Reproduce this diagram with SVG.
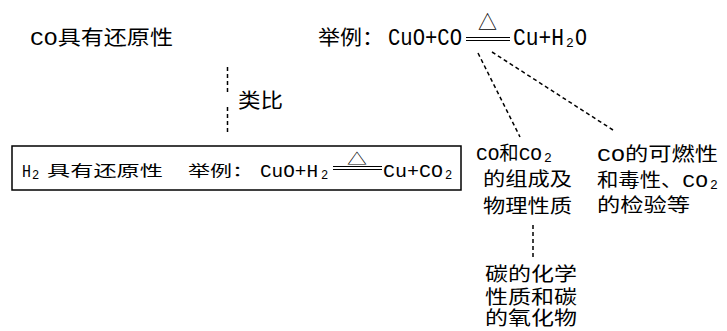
<svg xmlns="http://www.w3.org/2000/svg" width="727" height="331" viewBox="0 0 727 331">
<style>
.cjk{font-family:"Noto Sans CJK SC","Noto Sans",sans-serif;fill:#000}
.lat{font-family:"Liberation Mono","DejaVu Sans Mono",monospace;fill:#000}
.dash{stroke:#000;stroke-width:1.5;stroke-dasharray:4 3;fill:none}
.eq{stroke:#000;stroke-width:1.2;fill:none}
</style>
<rect width="727" height="331" fill="#fff"/>
<g id="connectors">
<line class="dash" x1="227.5" y1="67" x2="227.5" y2="93"/>
<line class="dash" x1="227.5" y1="107" x2="227.5" y2="135"/>
<line class="dash" x1="478" y1="53" x2="520" y2="137"/>
<line class="dash" x1="492" y1="52" x2="613" y2="130"/>
<line class="dash" x1="533" y1="225" x2="533" y2="260"/>
<text class="cjk" x="238" y="108" font-size="20" textLength="45" lengthAdjust="spacingAndGlyphs">类比</text>
</g>
<g id="node-co">
<text class="cjk" x="30" y="45" font-size="20" textLength="143" lengthAdjust="spacingAndGlyphs"><tspan class="lat">CO</tspan>具有还原性</text>
</g>
<g id="node-co-example">
<text class="cjk" x="318" y="45" font-size="20" textLength="66" lengthAdjust="spacingAndGlyphs">举例：</text>
<text class="lat" x="388" y="45" font-size="23" textLength="74" lengthAdjust="spacingAndGlyphs">CuO+CO</text>
<line class="eq" x1="466" y1="37.5" x2="510" y2="37.5"/>
<line class="eq" x1="466" y1="40.5" x2="510" y2="40.5"/>
<text class="cjk" x="478" y="30" font-size="20" textLength="19" lengthAdjust="spacingAndGlyphs">△</text>
<text class="lat" x="513" y="45" font-size="23" textLength="51" lengthAdjust="spacingAndGlyphs">Cu+H</text>
<text class="lat" x="566" y="47" font-size="13">2</text>
<text class="lat" x="575" y="45" font-size="23" textLength="12" lengthAdjust="spacingAndGlyphs">O</text>
</g>
<g id="node-h2">
<rect x="12" y="146" width="449" height="44" fill="none" stroke="#000" stroke-width="1.5"/>
<text class="lat" x="22" y="177" font-size="18" textLength="9" lengthAdjust="spacingAndGlyphs">H</text>
<text class="lat" x="32" y="179" font-size="12">2</text>
<text class="cjk" x="47" y="176" font-size="15" textLength="116" lengthAdjust="spacingAndGlyphs">具有还原性</text>
<text class="cjk" x="188" y="176" font-size="15" textLength="66" lengthAdjust="spacingAndGlyphs">举例：</text>
<text class="lat" x="260" y="177" font-size="18" textLength="58" lengthAdjust="spacingAndGlyphs">CuO+H</text>
<text class="lat" x="321" y="179" font-size="12">2</text>
<line class="eq" x1="333" y1="166.5" x2="382" y2="166.5"/>
<line class="eq" x1="333" y1="169.5" x2="382" y2="169.5"/>
<text class="cjk" x="347" y="164" font-size="15" textLength="20" lengthAdjust="spacingAndGlyphs">△</text>
<text class="lat" x="383" y="177" font-size="18" textLength="60" lengthAdjust="spacingAndGlyphs">Cu+CO</text>
<text class="lat" x="445" y="179" font-size="12">2</text>
</g>
<g id="node-composition">
<text class="cjk" x="476" y="160" font-size="19" textLength="66" lengthAdjust="spacingAndGlyphs"><tspan class="lat">CO</tspan>和<tspan class="lat">CO</tspan></text>
<text class="lat" x="544" y="162" font-size="13">2</text>
<text class="cjk" x="483" y="186" font-size="19" textLength="89" lengthAdjust="spacingAndGlyphs">的组成及</text>
<text class="cjk" x="483" y="213" font-size="19" textLength="89" lengthAdjust="spacingAndGlyphs">物理性质</text>
</g>
<g id="node-combustion">
<text class="cjk" x="597" y="161" font-size="19" textLength="121" lengthAdjust="spacingAndGlyphs"><tspan class="lat">CO</tspan>的可燃性</text>
<text class="cjk" x="597" y="187" font-size="19" textLength="111" lengthAdjust="spacingAndGlyphs">和毒性、<tspan class="lat">CO</tspan></text>
<text class="lat" x="710" y="189" font-size="13">2</text>
<text class="cjk" x="597" y="212" font-size="19" textLength="93" lengthAdjust="spacingAndGlyphs">的检验等</text>
</g>
<g id="node-chem">
<text class="cjk" x="485" y="281" font-size="19" textLength="92" lengthAdjust="spacingAndGlyphs">碳的化学</text>
<text class="cjk" x="485" y="304" font-size="19" textLength="92" lengthAdjust="spacingAndGlyphs">性质和碳</text>
<text class="cjk" x="485" y="325" font-size="19" textLength="92" lengthAdjust="spacingAndGlyphs">的氧化物</text>
</g>
</svg>
